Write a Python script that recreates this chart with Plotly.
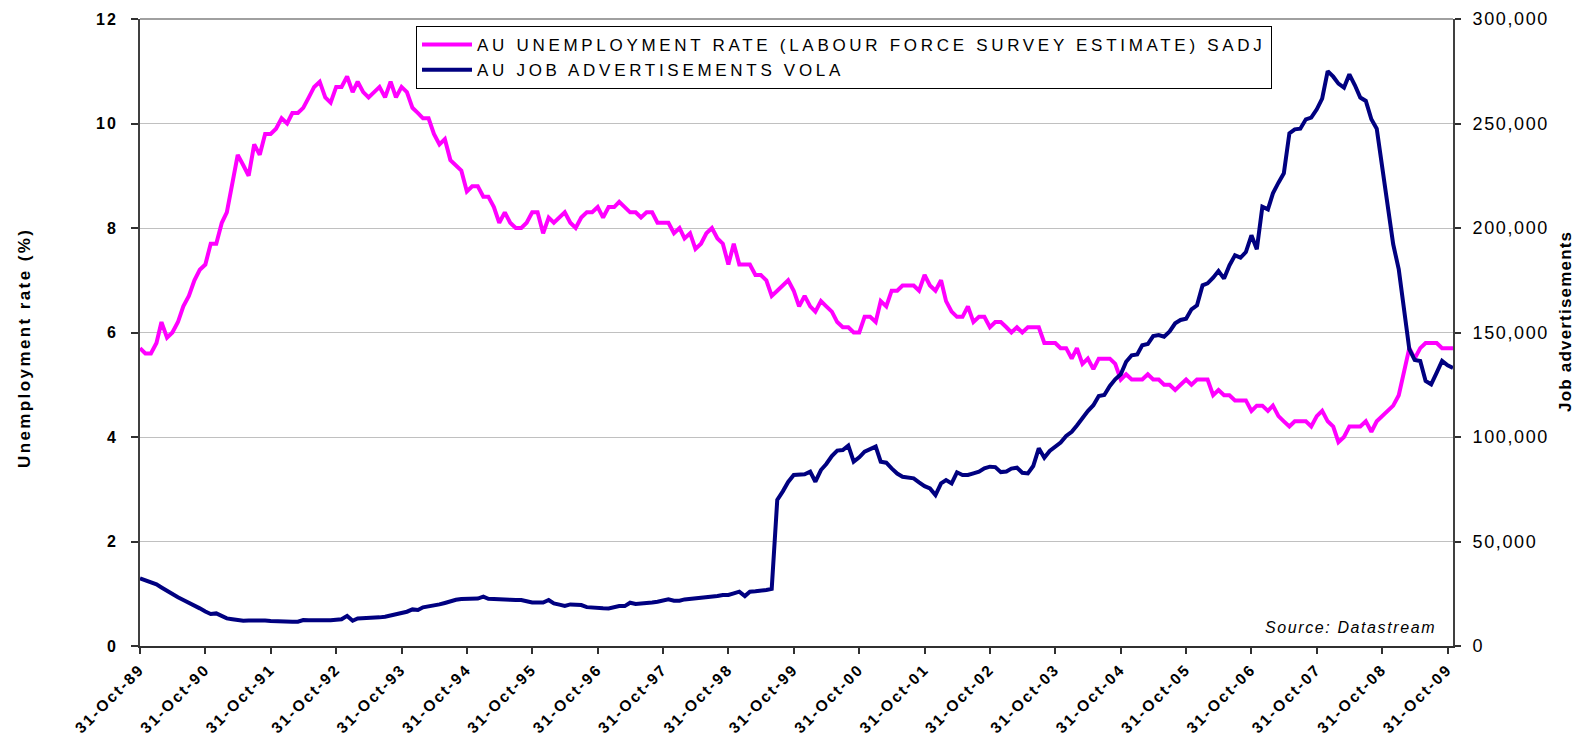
import pandas as pd
import plotly.graph_objects as go

# ---------------- data ----------------
dates = pd.date_range("1989-10-31", periods=242, freq="ME")

unemployment_rate = [
    5.7, 5.6, 5.6, 5.8, 6.2, 5.9, 6.0, 6.2, 6.5, 6.7, 7.0, 7.2,
    7.3, 7.7, 7.7, 8.1, 8.3, 8.9, 9.4, 9.2, 9.0, 9.6, 9.4, 9.8,
    9.8, 9.9, 10.1, 10.0, 10.2, 10.2, 10.3, 10.5, 10.7, 10.8, 10.5, 10.4,
    10.7, 10.7, 10.9, 10.6, 10.8, 10.6, 10.5, 10.6, 10.7, 10.5, 10.8, 10.5,
    10.7, 10.6, 10.3, 10.2, 10.1, 10.1, 9.8, 9.6, 9.7, 9.3, 9.2, 9.1,
    8.7, 8.8, 8.8, 8.6, 8.6, 8.4, 8.1, 8.3, 8.1, 8.0, 8.0, 8.1,
    8.3, 8.3, 7.9, 8.2, 8.1, 8.2, 8.3, 8.1, 8.0, 8.2, 8.3, 8.3,
    8.4, 8.2, 8.4, 8.4, 8.5, 8.4, 8.3, 8.3, 8.2, 8.3, 8.3, 8.1,
    8.1, 8.1, 7.9, 8.0, 7.8, 7.9, 7.6, 7.7, 7.9, 8.0, 7.8, 7.7,
    7.3, 7.7, 7.3, 7.3, 7.3, 7.1, 7.1, 7.0, 6.7, 6.8, 6.9, 7.0,
    6.8, 6.5, 6.7, 6.5, 6.4, 6.6, 6.5, 6.4, 6.2, 6.1, 6.1, 6.0,
    6.0, 6.3, 6.3, 6.2, 6.6, 6.5, 6.8, 6.8, 6.9, 6.9, 6.9, 6.8,
    7.1, 6.9, 6.8, 7.0, 6.6, 6.4, 6.3, 6.3, 6.5, 6.2, 6.3, 6.3,
    6.1, 6.2, 6.2, 6.1, 6.0, 6.1, 6.0, 6.1, 6.1, 6.1, 5.8, 5.8,
    5.8, 5.7, 5.7, 5.5, 5.7, 5.4, 5.5, 5.3, 5.5, 5.5, 5.5, 5.4,
    5.1, 5.2, 5.1, 5.1, 5.1, 5.2, 5.1, 5.1, 5.0, 5.0, 4.9, 5.0,
    5.1, 5.0, 5.1, 5.1, 5.1, 4.8, 4.9, 4.8, 4.8, 4.7, 4.7, 4.7,
    4.5, 4.6, 4.6, 4.5, 4.6, 4.4, 4.3, 4.2, 4.3, 4.3, 4.3, 4.2,
    4.4, 4.5, 4.3, 4.2, 3.9, 4.0, 4.2, 4.2, 4.2, 4.3, 4.1, 4.3,
    4.4, 4.5, 4.6, 4.8, 5.2, 5.7, 5.5, 5.7, 5.8, 5.8, 5.8, 5.7,
    5.7, 5.7,
]

job_ads = [
    32400, 31500, 30200, 29500, 28000, 26300, 24500, 23300, 22000, 20800, 19300, 18000,
    16500, 15300, 15600, 14200, 13200, 12800, 12300, 12100, 12200, 12300, 12400, 12200,
    12000, 11800, 11600, 11600, 11600, 11600, 12400, 12300, 12200, 12200, 12100, 12300,
    12600, 12800, 14400, 12100, 13200, 13300, 13200, 13300, 13700, 14000, 14600, 15200,
    15700, 16400, 17500, 17200, 18500, 18900, 19400, 19900, 20600, 21600, 22100, 22500,
    22700, 22800, 22700, 23600, 22600, 22500, 22500, 22500, 22100, 22000, 22000, 21400,
    20800, 20800, 20800, 22000, 20400, 19800, 19200, 19900, 19800, 19600, 18600, 18300,
    18200, 18100, 18000, 18500, 19100, 19100, 20700, 20100, 20200, 20400, 20800, 21200,
    21800, 22300, 21700, 21700, 22300, 22600, 22800, 23000, 23200, 23300, 23900, 24400,
    24400, 25200, 26000, 23900, 26000, 26200, 26300, 26800, 27300, 69900, 74000, 78500,
    81800, 81800, 82200, 83400, 78600, 84200, 87100, 90900, 93500, 93800, 95900, 88200,
    90300, 93000, 94200, 95400, 88200, 87700, 85000, 82500, 81000, 80600, 80200, 78300,
    76500, 75400, 72200, 77800, 79400, 77800, 83100, 81800, 81800, 82600, 83400, 85000,
    85800, 85600, 83200, 83500, 84900, 85300, 82900, 82600, 86100, 94600, 90100, 93300,
    95300, 97300, 100500, 102500, 105500, 109300, 112400, 115200, 119600, 120100, 124400, 127600,
    130000, 136000, 139100, 139500, 143900, 144500, 148300, 148800, 148000, 150500, 154400, 156000,
    156600, 161100, 163000, 172600, 173500, 176200, 179400, 175800, 182100, 186900, 185800, 188500,
    196500, 189800, 210200, 208900, 216600, 221700, 226200, 245300, 247200, 247500, 252000, 252800,
    256800, 261900, 275100, 272400, 269100, 267200, 273500, 268300, 262400, 260800, 252000, 247500,
    229700, 212100, 192200, 180200, 161100, 142000, 136900, 136400, 126800, 125200, 130800, 136400,
    134300, 133000,
]

series_names = [
    "AU UNEMPLOYMENT RATE (LABOUR FORCE SURVEY ESTIMATE) SADJ",
    "AU JOB ADVERTISEMENTS VOLA",
]
left_ticks = [0, 2, 4, 6, 8, 10, 12]
right_ticks = [0, 50000, 100000, 150000, 200000, 250000, 300000]
x_ticks = list(dates[::12])
left_title = "Unemployment rate (%)"
right_title = "Job advertisements"
source_text = "Source: Datastream"

# ---------------- layout geometry ----------------
FONT = "Liberation Sans, Arial, sans-serif"
PAGE_MARGIN = 8              # default <body> margin of the html page
W, H = 1587 - 2 * PAGE_MARGIN, 746 - 2 * PAGE_MARGIN   # fit the window, no scrollbars
PL, PR, PT, PB = 140, 1453, 19, 646     # plot box in window pixels
PW, PH = PR - PL, PB - PT


def px_x(x):
    return (x - PL) / PW


def px_y(y):
    return (PB - y) / PH


def spaced(text, px):
    return f"<span style='letter-spacing:{px}px'>{text}</span>"


fig = go.Figure()
fig.add_trace(go.Scatter(
    x=dates, y=unemployment_rate, mode="lines",
    name=spaced(series_names[0], 3.7),
    line=dict(color="#FF00FF", width=4),
    yaxis="y",
))
fig.add_trace(go.Scatter(
    x=dates, y=job_ads, mode="lines",
    name=spaced(series_names[1], 3.7),
    line=dict(color="#000080", width=4),
    yaxis="y2",
))

fig.update_layout(
    width=W, height=H,
    margin=dict(l=PL - PAGE_MARGIN, r=W - (PR - PAGE_MARGIN),
                t=PT - PAGE_MARGIN, b=H - (PB - PAGE_MARGIN), autoexpand=False),
    paper_bgcolor="white", plot_bgcolor="white",
    font=dict(family=FONT, color="black"),
    showlegend=True,
    legend=dict(
        x=px_x(416), y=px_y(26), xanchor="left", yanchor="top",
        bordercolor="black", borderwidth=1, bgcolor="white",
        font=dict(family=FONT, size=17, color="black"),
        tracegroupgap=0, itemwidth=50,
    ),
    xaxis=dict(
        type="date",
        range=[dates[0], dates[-1]],
        tickvals=x_ticks,
        ticktext=[spaced("<b>" + d.strftime("%d-%b-%y") + "</b>", 2.2) for d in x_ticks],
        tickangle=-45,
        tickfont=dict(family=FONT, size=15.5, color="black"),
        showgrid=False, zeroline=False,
        showline=True, linecolor="#303030", linewidth=2,
        ticks="outside", ticklen=6, tickcolor="#303030", tickwidth=1.5,
    ),
    yaxis=dict(
        range=[0, 12],
        tickvals=left_ticks,
        ticktext=[spaced(f"<b>{v}</b>", 2) for v in left_ticks],
        tickfont=dict(family=FONT, size=16, color="black"),
        ticklabelstandoff=10,
        showgrid=True, gridcolor="#C0C0C0", gridwidth=1,
        zeroline=False,
        showline=True, linecolor="#404040", linewidth=2,
        ticks="outside", ticklen=7, tickcolor="#303030", tickwidth=1.5,
    ),
    yaxis2=dict(
        range=[0, 300000],
        overlaying="y", side="right",
        tickvals=right_ticks,
        ticktext=[spaced(f"{v:,}", 1.6) for v in right_ticks],
        tickfont=dict(family=FONT, size=18, color="black"),
        ticklabelstandoff=8,
        showgrid=False, zeroline=False,
        showline=True, linecolor="#404040", linewidth=2,
        ticks="outside", ticklen=6, tickcolor="#303030", tickwidth=1.5,
    ),
    shapes=[dict(type="line", xref="paper", yref="paper", x0=0, x1=1, y0=1, y1=1,
                 line=dict(color="#808080", width=1.5))],
    annotations=[
        dict(text=spaced(f"<b>{left_title}</b>", 2.4), textangle=-90,
             xref="paper", yref="paper", x=px_x(24), y=px_y(348),
             xanchor="center", yanchor="middle", showarrow=False,
             font=dict(family=FONT, size=17, color="black")),
        dict(text=spaced(f"<b>{right_title}</b>", 1.2), textangle=-90,
             xref="paper", yref="paper", x=px_x(1565), y=px_y(322),
             xanchor="center", yanchor="middle", showarrow=False,
             font=dict(family=FONT, size=17, color="black")),
        dict(text=spaced(f"<i>{source_text}</i>", 1.6),
             xref="paper", yref="paper", x=px_x(1438), y=px_y(627),
             xanchor="right", yanchor="middle", showarrow=False,
             font=dict(family=FONT, size=16, color="black")),
    ],
)

fig.write_html("out.html")
